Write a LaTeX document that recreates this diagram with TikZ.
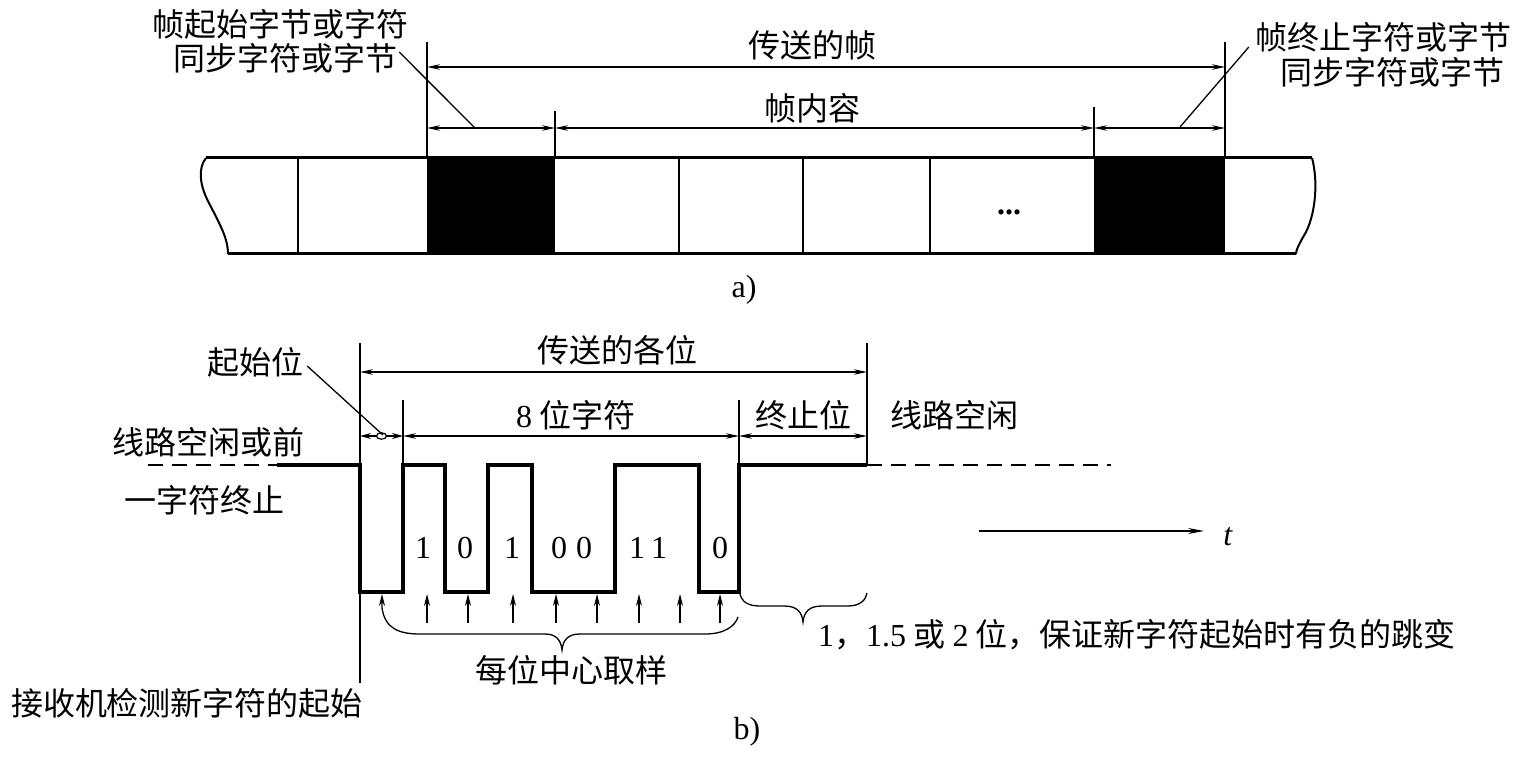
\documentclass[tikz,border=0pt]{standalone}
\usepackage{fontspec}
\setmainfont{Liberation Serif}
\newfontfamily\cjk{Noto Sans CJK SC}
\usetikzlibrary{arrows.meta}
\tikzset{
  lbl/.style={font=\cjk\fontsize{32}{34}\selectfont, inner sep=0pt},
  num/.style={font=\fontsize{32}{34}\selectfont, inner sep=0pt},
  dimline/.style={line width=1.3pt, {Stealth[length=13pt,width=5.5pt]}-{Stealth[length=13pt,width=5.5pt]}},
  fineline/.style={line width=1.3pt},
  barline/.style={line width=3pt},
  divline/.style={line width=2.6pt},
  wire/.style={line width=3.2pt, line join=miter},
  dashline/.style={line width=1.6pt, dash pattern=on 15pt off 9pt},
  sample/.style={line width=1.3pt, -{Stealth[length=12pt,width=6pt]}},
}
\begin{document}
\begin{tikzpicture}[x=1pt,y=-1pt]
\useasboundingbox (0,0) rectangle (1523,759);

% ---------------- part a ----------------
\fill (427,158) rectangle (555,254);
\fill (1094,158) rectangle (1225,254);
\draw[barline] (206,158) -- (1312,158);
\draw[barline] (228,254) -- (1296,254);
\draw[line width=2pt] (206,158) .. controls (198,168) and (199,185) .. (210,205)
   .. controls (222,228) and (228,240) .. (228,254);
\draw[line width=2pt] (1312,158) .. controls (1318,180) and (1316,212) .. (1306,232)
   .. controls (1299,244) and (1296,250) .. (1296,254);
\foreach \xx in {298,679,803,930} \draw[divline] (\xx,158) -- (\xx,254);
\node[num] (dots) at (1009,212) {\textbf{...}};

\coordinate (e1t) at (427,42);  \coordinate (e1b) at (427,158);
\coordinate (e2t) at (555,111); \coordinate (e2b) at (555,158);
\coordinate (e3t) at (1094,107);\coordinate (e3b) at (1094,158);
\coordinate (e4t) at (1225,42); \coordinate (e4b) at (1225,158);
\draw[fineline] (e1t) -- (e1b);
\draw[fineline] (e2t) -- (e2b);
\draw[fineline] (e3t) -- (e3b);
\draw[fineline] (e4t) -- (e4b);

\coordinate (fa) at (427,67);  \coordinate (fb) at (1225,67);
\draw[dimline] (fa) -- (fb);
\coordinate (ga) at (427,128); \coordinate (gb) at (555,128);
\coordinate (gc) at (1094,128); \coordinate (gd) at (1225,128);
\draw[dimline] (ga) -- (gb);
\draw[dimline] (gb) -- (gc);
\draw[dimline] (gc) -- (gd);

\node[lbl] (frame) at (812,45) {传送的帧};
\node[lbl] (content) at (812,108) {帧内容};
\node[lbl] (l1) at (280,24) {帧起始字节或字符};
\node[lbl] (l2) at (285,58) {同步字符或字节};
\node[lbl] (r1) at (1383,37) {帧终止字符或字节};
\node[lbl] (r2) at (1392,72) {同步字符或字节};
\coordinate (lp) at (475,128);
\coordinate (rp) at (1180,127);
\draw[fineline] (l2.east) ++(2,-6) -- (lp);
\draw[fineline] (r1.west) ++(-6,10) -- (rp);
\node[num] (capa) at (744,290) {a)};

% ---------------- part b ----------------
\coordinate (s0t) at (360,343); \coordinate (s0b) at (360,683);
\draw[fineline] (s0t) -- (s0b);
\draw[fineline] (403,400) -- (403,465);
\draw[fineline] (739,400) -- (739,465);
\draw[fineline] (867,343) -- (867,465);

\coordinate (ta) at (360,372); \coordinate (tb) at (867,372);
\draw[dimline] (ta) -- (tb);
\coordinate (ba) at (360,436); \coordinate (bb) at (403,436);
\coordinate (bc) at (739,436); \coordinate (bd) at (867,436);
\draw[line width=1.3pt, {Stealth[length=11pt,width=6pt]}-{Stealth[length=11pt,width=6pt]}] (ba) -- (bb);
\draw[line width=1.2pt, fill=white] (381.5,436) ellipse (5 and 3.2);
\draw[dimline] (bb) -- (bc);
\draw[dimline] (bc) -- (bd);

\node[lbl] (allbits) at (617,350) {传送的各位};
\node[lbl, anchor=west] (eight) at (516,415) {{\rmfamily\fontsize{32}{34}\selectfont 8} 位字符};
\node[lbl] (stopb) at (803,415) {终止位};
\node[lbl] (idle) at (954,415) {线路空闲};
\node[lbl] (startb) at (255,362) {起始位};
\coordinate (sp) at (383,435);
\draw[fineline] (startb.east) ++(4,4) -- (sp);

\node[lbl] (prev1) at (208,442) {线路空闲或前};
\node[lbl] (prev2) at (204,500) {一字符终止};

\draw[dashline] (148,465) -- (277,465);
\draw[wire] (277,465) -- (360,465) -- (360,592) -- (403,592) -- (403,465)
  -- (445,465) -- (445,592) -- (488,592) -- (488,465) -- (532,465) -- (532,592)
  -- (615,592) -- (615,465) -- (699,465) -- (699,592) -- (739,592) -- (739,465)
  -- (867,465);
\draw[dashline] (867,465) -- (1111,465);

\node[num] (d1) at (423,548) {1};
\node[num] (d2) at (465,548) {0};
\node[num] (d3) at (512,548) {1};
\node[num] (d4) at (559,548) {0};
\node[num] (d5) at (584,548) {0};
\node[num] (d6) at (637,548) {1};
\node[num] (d7) at (659,548) {1};
\node[num] (d8) at (720,548) {0};

\foreach \xx in {427,468,513,556,597,639,680,720}
  \draw[sample] (\xx,623) -- (\xx,594);

\draw[line width=1.3pt, {Stealth[length=12pt,width=6pt]}-] (382,594) -- (382,608)
  .. controls (385,628) and (398,634) .. (420,634) -- (545,634)
  .. controls (556,634) and (561,640) .. (562,650)
  .. controls (563,640) and (568,634) .. (580,634) -- (705,634)
  .. controls (725,634) and (735,626) .. (738,617);
\draw[fineline] (740,594) .. controls (742,602) and (748,606) .. (760,606) -- (784,606)
  .. controls (797,606) and (802,612) .. (803,622)
  .. controls (804,612) and (809,606) .. (822,606) -- (848,606)
  .. controls (860,606) and (866,600) .. (867,593);

\node[lbl] (sampling) at (571,670) {每位中心取样};
\node[lbl, anchor=west] (note) at (818,635) {{\rmfamily\fontsize{32}{34}\selectfont 1}，{\rmfamily\fontsize{32}{34}\selectfont 1.5} 或 {\rmfamily\fontsize{32}{34}\selectfont 2} 位，保证新字符起始时有负的跳变};

\coordinate (t0) at (979,531); \coordinate (t1) at (1204,531);
\draw[line width=1.4pt, -{Stealth[length=16pt,width=6pt]}] (t0) -- (t1);
\node[num] (tl) at (1228,537) {\textit{t}};
\node[num] (capb) at (747,732) {b)};
\node[lbl] (detect) at (187,703) {接收机检测新字符的起始};
\end{tikzpicture}
\end{document}
